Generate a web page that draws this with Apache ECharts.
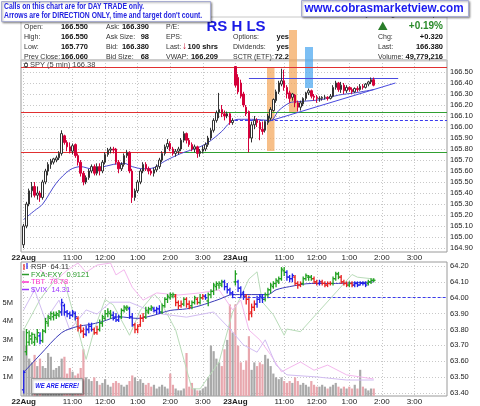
<!DOCTYPE html>
<html><head><meta charset="utf-8">
<script src="https://cdn.jsdelivr.net/npm/echarts@6/dist/echarts.min.js"></script>
<style>html,body{margin:0;padding:0;background:#fff}#c{width:480px;height:406px}</style>
</head><body><div id="c"></div>
<script>
// ---------- DATA ----------
const tickCats = [1, 19, 31, 43, 55, 67, 79, 97, 109, 121, 133, 145];
const tickText = ['22Aug','11:00','12:00','1:00','2:00','3:00','23Aug','11:00','12:00','1:00','2:00','3:00'];
const priceTicks = [164.9,165.0,165.1,165.2,165.3,165.4,165.5,165.6,165.7,165.8,165.9,166.0,166.1,166.2,166.3,166.4,166.5];
const rspTicks = [63.4,63.5,63.6,63.7,63.8,63.9,64.0,64.1,64.2];
const volTicks = [1,2,3,4,5];

const spyOpen = [164.93,165.10,165.30,165.42,165.46,165.38,165.40,165.36,165.50,165.60,
165.66,165.68,165.70,165.72,165.76,165.92,165.86,165.82,165.78,165.84,
165.74,165.68,165.58,165.50,165.54,165.60,165.64,165.58,165.64,165.60,
165.68,165.75,165.79,165.80,165.80,165.68,165.62,165.66,165.74,165.77,
165.60,165.36,165.42,165.50,165.60,165.66,165.62,165.60,165.58,165.61,
165.64,165.70,165.76,165.82,165.85,165.80,165.76,165.78,165.80,165.88,
165.94,165.88,165.84,165.80,165.82,165.76,165.78,165.80,165.84,165.90,
165.97,166.06,166.13,166.16,166.12,166.10,166.12,166.04,
166.55,166.45,166.40,166.30,166.18,166.14,165.90,166.02,166.06,166.04,
165.98,165.97,166.04,166.08,166.15,166.24,166.32,166.39,166.42,166.36,
166.31,166.27,166.29,166.22,166.18,166.21,166.26,166.31,166.33,166.28,
166.27,166.26,166.26,166.27,166.27,166.26,166.28,166.36,166.40,166.34,
166.38,166.33,166.36,166.34,166.32,166.35,166.34,166.37,166.36,166.39,
166.41,166.43];
const spyClose = [165.10,165.30,165.42,165.46,165.38,165.40,165.36,165.50,165.60,165.66,
165.69,165.71,165.72,165.76,165.94,165.86,165.82,165.78,165.83,165.74,
165.68,165.58,165.50,165.54,165.60,165.64,165.58,165.64,165.60,165.68,
165.75,165.79,165.80,165.79,165.68,165.62,165.66,165.74,165.77,165.60,
165.36,165.42,165.50,165.60,165.66,165.62,165.60,165.58,165.61,165.64,
165.70,165.76,165.82,165.85,165.80,165.76,165.78,165.80,165.88,165.94,
165.88,165.84,165.80,165.82,165.76,165.78,165.80,165.84,165.90,165.97,
166.06,166.13,166.16,166.12,166.10,166.12,166.04,166.06,
166.38,166.32,166.28,166.20,166.12,165.90,166.02,166.06,166.04,165.98,
165.96,166.05,166.10,166.16,166.25,166.32,166.40,166.42,166.36,166.30,
166.26,166.30,166.22,166.18,166.22,166.26,166.31,166.33,166.28,166.27,
166.26,166.26,166.27,166.27,166.26,166.28,166.36,166.40,166.34,166.38,
166.33,166.36,166.34,166.32,166.35,166.34,166.37,166.36,166.39,166.41,
166.43,166.38];
const spyLow = [164.90,165.08,165.28,165.36,165.36,165.34,165.32,165.34,165.48,165.56,
165.62,165.66,165.68,165.70,165.74,165.84,165.78,165.76,165.75,165.72,
165.65,165.55,165.47,165.48,165.52,165.58,165.56,165.56,165.56,165.58,
165.66,165.73,165.76,165.76,165.66,165.58,165.60,165.64,165.72,165.58,
165.31,165.33,165.40,165.48,165.58,165.60,165.57,165.56,165.55,165.59,
165.62,165.68,165.74,165.80,165.78,165.74,165.73,165.75,165.78,165.86,
165.85,165.82,165.78,165.77,165.72,165.73,165.76,165.78,165.82,165.88,
165.95,166.04,166.08,166.09,166.06,166.08,166.02,166.02,
166.36,166.30,166.26,166.18,166.10,165.77,165.86,165.98,166.00,165.88,
165.93,165.95,166.02,166.06,166.14,166.22,166.30,166.37,166.33,166.26,
166.22,166.24,166.18,166.14,166.15,166.19,166.24,166.29,166.26,166.24,
166.22,166.23,166.24,166.25,166.24,166.25,166.27,166.34,166.32,166.31,
166.30,166.31,166.32,166.30,166.31,166.32,166.33,166.34,166.35,166.37,
166.39,166.37];
const spyHigh = [165.12,165.32,165.44,165.50,165.50,165.46,165.42,165.52,165.62,165.68,
165.71,165.72,165.74,165.78,165.97,165.93,165.88,165.86,165.85,165.85,
165.76,165.70,165.60,165.56,165.62,165.66,165.66,165.67,165.67,165.70,
165.77,165.81,165.82,165.82,165.81,165.70,165.68,165.76,165.79,165.78,
165.62,165.44,165.52,165.62,165.68,165.68,165.64,165.62,165.63,165.66,
165.72,165.78,165.84,165.89,165.87,165.82,165.80,165.82,165.90,165.96,
165.95,165.90,165.86,165.84,165.83,165.80,165.83,165.86,165.92,165.99,
166.08,166.15,166.31,166.20,166.15,166.14,166.13,166.08,
166.55,166.48,166.43,166.32,166.20,166.15,166.05,166.10,166.08,166.06,
166.05,166.06,166.12,166.18,166.26,166.34,166.42,166.53,166.52,166.38,
166.33,166.31,166.30,166.24,166.24,166.27,166.32,166.35,166.34,166.30,
166.29,166.28,166.28,166.29,166.28,166.30,166.38,166.42,166.41,166.41,
166.40,166.38,166.37,166.36,166.36,166.37,166.39,166.39,166.40,166.42,
166.45,166.45];
// moving average (read at sampled bars): [bar, value]
const spyMA = [[0,165.16],[4,165.24],[7,165.30],[12,165.49],[17,165.61],[21,165.64],[25,165.62],[28,165.63],[33,165.66],[37,165.67],[40,165.64],[44,165.62],[48,165.63],[52,165.69],[58,165.76],[64,165.81],[68,165.86],[73,165.96],[76,166.04],[79,166.07],[84,166.07],[91,166.06],[94,166.15],[98,166.22],[101,166.23],[110,166.25],[116,166.29],[122,166.31],[129,166.34]];

const volM = [3.5,2.7,2.0,1.8,2.2,1.6,2.0,1.6,1.5,2.3,
2.1,1.4,1.5,1.6,2.0,2.1,1.2,1.5,1.3,1.1,
1.2,1.5,2.5,1.0,0.9,0.8,1.0,0.8,0.6,0.7,
0.9,0.6,0.5,0.7,0.8,0.7,0.6,0.5,0.6,0.8,
1.1,1.0,0.8,0.9,0.7,0.6,0.7,0.5,0.6,0.4,
0.5,0.6,0.5,0.4,1.2,0.6,0.4,0.3,0.3,0.4,
2.3,0.5,0.7,0.4,0.3,0.3,0.4,0.5,1.0,2.7,
2.4,2.0,1.8,1.6,2.5,3.0,4.9,3.4,
4.9,2.7,1.8,1.4,1.9,3.2,1.4,1.8,1.6,1.8,
1.7,2.2,2.0,1.6,1.2,1.0,0.9,1.0,0.8,0.7,
0.8,0.7,1.0,0.8,0.6,0.7,0.6,0.5,0.8,0.6,
0.5,0.5,0.6,0.5,0.4,0.5,0.6,0.7,0.5,0.4,
0.5,0.4,0.5,0.4,0.6,0.4,1.4,0.5,0.4,0.3,
0.4,0.4];

const rspOpen = [63.42,63.66,63.72,63.74,63.72,63.74,63.76,63.73,63.79,63.84,
63.87,63.88,63.89,63.89,63.91,63.95,63.91,63.90,63.89,63.90,
63.87,63.81,63.79,63.77,63.80,63.82,63.80,63.78,63.80,63.84,
63.87,63.90,63.90,63.89,63.88,63.86,63.88,63.92,63.93,63.93,
63.88,63.83,63.80,63.83,63.87,63.88,63.91,63.93,63.93,63.92,
63.93,63.91,63.95,63.99,64.00,64.01,64.01,63.97,63.95,63.96,
63.99,63.96,63.95,63.97,63.99,63.97,64.00,64.01,63.98,64.02,
64.04,64.07,64.08,64.08,64.10,64.07,64.05,64.03,
64.10,64.10,64.06,64.03,64.01,63.99,63.91,63.94,63.96,63.99,
64.00,63.99,64.02,64.05,64.07,64.09,64.10,64.12,64.17,64.16,
64.13,64.12,64.13,64.09,64.08,64.09,64.12,64.13,64.13,64.12,
64.10,64.09,64.10,64.09,64.08,64.09,64.09,64.12,64.15,64.13,
64.10,64.09,64.08,64.09,64.08,64.09,64.08,64.09,64.09,64.09,
64.10,64.11];
const rspClose = [63.53,63.78,63.76,63.77,63.75,63.78,63.73,63.79,63.85,63.88,
63.90,63.89,63.90,63.91,63.97,63.91,63.90,63.89,63.91,63.88,
63.81,63.79,63.77,63.80,63.82,63.80,63.78,63.80,63.84,63.88,
63.90,63.91,63.89,63.87,63.86,63.88,63.92,63.94,63.94,63.88,
63.83,63.80,63.82,63.87,63.88,63.92,63.93,63.94,63.92,63.93,
63.91,63.95,63.99,64.01,64.02,64.02,63.97,63.95,63.96,63.99,
63.96,63.94,63.97,64.00,63.97,64.00,64.01,64.00,64.02,64.04,
64.08,64.09,64.09,64.10,64.07,64.05,64.03,64.02,
64.15,64.06,64.02,64.01,63.99,63.90,63.94,63.96,63.99,64.01,
63.99,64.02,64.05,64.08,64.09,64.11,64.12,64.18,64.16,64.13,
64.12,64.14,64.09,64.08,64.09,64.12,64.14,64.13,64.12,64.10,
64.09,64.10,64.09,64.08,64.09,64.09,64.12,64.15,64.13,64.10,
64.09,64.08,64.09,64.08,64.09,64.08,64.09,64.09,64.08,64.10,
64.11,64.11];
const rspLow = [63.40,63.64,63.70,63.71,63.70,63.72,63.71,63.72,63.78,63.82,
63.86,63.86,63.87,63.88,63.89,63.89,63.88,63.87,63.88,63.86,
63.79,63.78,63.75,63.76,63.78,63.79,63.77,63.77,63.79,63.82,
63.86,63.88,63.87,63.86,63.85,63.85,63.87,63.91,63.92,63.87,
63.82,63.78,63.78,63.82,63.85,63.87,63.90,63.92,63.91,63.90,
63.90,63.90,63.94,63.97,63.99,64.00,63.95,63.93,63.94,63.95,
63.94,63.93,63.93,63.96,63.96,63.96,63.99,63.99,63.95,64.00,
64.02,64.05,64.06,64.07,64.05,64.03,64.02,64.00,
64.08,64.04,64.00,63.99,63.96,63.86,63.88,63.92,63.94,63.97,
63.97,63.98,64.00,64.03,64.06,64.07,64.09,64.11,64.14,64.11,
64.10,64.10,64.08,64.06,64.07,64.08,64.11,64.11,64.11,64.09,
64.08,64.08,64.08,64.07,64.07,64.08,64.08,64.11,64.12,64.09,
64.08,64.07,64.07,64.07,64.07,64.07,64.08,64.08,64.07,64.08,
64.09,64.10];
const rspHigh = [63.54,63.80,63.79,63.78,63.77,63.80,63.78,63.80,63.87,63.89,
63.91,63.91,63.91,63.92,63.99,63.96,63.92,63.91,63.92,63.91,
63.88,63.83,63.81,63.82,63.84,63.84,63.81,63.82,63.86,63.89,
63.92,63.93,63.92,63.91,63.90,63.89,63.93,63.95,63.95,63.94,
63.90,63.84,63.83,63.89,63.90,63.94,63.94,63.95,63.94,63.94,
63.95,63.96,64.00,64.02,64.03,64.03,64.02,63.98,63.98,64.00,
64.00,63.98,63.98,64.01,64.00,64.02,64.02,64.02,64.03,64.05,
64.09,64.10,64.10,64.11,64.11,64.09,64.06,64.04,
64.17,64.11,64.07,64.04,64.02,64.01,63.96,63.98,64.01,64.02,
64.02,64.03,64.06,64.09,64.10,64.12,64.13,64.19,64.19,64.17,
64.14,64.15,64.14,64.10,64.10,64.13,64.15,64.14,64.14,64.13,
64.11,64.11,64.11,64.10,64.10,64.10,64.13,64.16,64.16,64.14,
64.11,64.10,64.10,64.10,64.10,64.10,64.10,64.10,64.10,64.11,
64.12,64.12];
// impulse colour state per bar: G = green, B = blue, R = red
const rspImpulse = "BGGGGGBGGG"+"GGGGBBBBBB"+"RRRBBBRRGG"+"GGGBBBGGGB"+"BRRRRGGGBB"+"BGGGGGRRRG"+"RRGGRGRBGG"+"GGGGBBBB"+
"GBBBRRRRBB"+"BGGGGGGGGB"+"BBRRRGGGGR"+"RBRRRRGGGR"+"RRGRBBBBBG"+"GG";
const rspMA = [[0,63.53],[6,63.64],[14,63.78],[20,63.82],[24,63.83],[29,63.85],[35,63.88],[42,63.87],[48,63.89],[54,63.92],[60,63.93],[65,63.95],[72,63.99],[77,64.02],[82,64.02],[86,64.02],[90,64.02],[93,64.05],[98,64.07],[106,64.09],[114,64.09],[129,64.10]];

const fxaFxy = [[0,0.9064],[6,0.9098],[12,0.9122],[15,0.9118],[19,0.9075],[23,0.9031],[26,0.9064],[30,0.9098],[33,0.9092],[39,0.9058],[43,0.9086],[48,0.9104],[50,0.9098],[56,0.9064],[62,0.8998],[65,0.8998],[72,0.9028],[77,0.9084],[79,0.9095],[83,0.9121],[86,0.9129],[88,0.9095],[92,0.9081],[96,0.9058],[97,0.9065],[102,0.9062],[121,0.9126],[123,0.9123],[129,0.9121]];
const tbt = [[6,81.89],[12,81.70],[16,81.89],[20,82.03],[23,81.85],[27,81.99],[32,82.03],[34,81.80],[37,81.90],[40,81.56],[44,81.31],[49,81.45],[57,81.41],[65,81.45],[72,81.51],[77,81.12],[80,81.31],[83,80.73],[87,80.54],[91,80.25],[95,79.92],[102,80.11],[107,79.95],[112,80.05],[119,79.86],[124,79.82],[129,79.78]];
const vix = [[0,15.67],[4,16.06],[8,15.47],[13,15.86],[17,15.28],[23,15.67],[27,15.59],[32,15.82],[39,15.82],[45,15.69],[51,15.59],[60,15.53],[70,15.63],[76,15.30],[81,14.99],[86,14.85],[89,15.09],[93,14.60],[97,14.41],[108,14.37],[119,14.31],[129,14.31]];

// annotation price levels
const redTop = 166.54, level1 = 166.13, level2 = 165.77, prevClose = 166.06, resist = 166.44;
const trendStart = [91, 166.05], trendEnd = [138, 166.40];
const rspRef = 64.00;

// ---------- BUILD ----------
const N = 158;
const cats = Array.from({length: N}, (_, i) => String(i));
const empty = () => Array.from({length: N}, () => null);
const candle = Array.from({length: N}, () => '-');
spyOpen.forEach((o, k) => { candle[k + 1] = [o, spyClose[k], spyLow[k], spyHigh[k]]; });
const sparse = pts => { const a = empty(); pts.forEach(p => { a[p[0] + 1] = p[1]; }); return a; };
const volData = empty();
volM.forEach((v, k) => { volData[k + 1] = { value: v, itemStyle: { color: spyClose[k] < spyOpen[k] ? '#e8a7ae' : '#a9a9a9' } }; });
const impCode = { G: 0, B: 1, R: 2 };
const impColor = ['#20a020', '#2020e8', '#e82020'];
const rspData = rspOpen.map((o, k) => [k + 1, o, rspClose[k], rspLow[k], rspHigh[k], impCode[rspImpulse[k]]]);

const tickSet = new Set(tickCats);
const FONT = 'Liberation Sans';
const xAxisCommon = (gi) => ({
  type: 'category', gridIndex: gi, data: cats, boundaryGap: false,
  axisLine: { show: false }, axisTick: { show: false },
  axisLabel: {
    interval: (i) => tickSet.has(i), margin: 2, fontSize: 8, color: '#222', fontFamily: FONT,
    formatter: (v) => { const j = tickCats.indexOf(+v); if (j < 0) return ''; return (j === 0 || j === 6) ? '{b|' + tickText[j] + '}' : tickText[j]; },
    rich: { b: { fontWeight: 'bold', fontSize: 8, color: '#222', fontFamily: FONT } }
  },
  splitLine: { show: true, interval: (i) => tickSet.has(i), lineStyle: { color: '#c8c8c8', type: [1, 2], width: 1 } }
});

const chart = echarts.init(document.getElementById('c'), null, { renderer: 'canvas' });
const T = (x, y, text, o = {}, z = 20, sx = 1) => ({ type: 'text', x, y, z, scaleX: sx, style: Object.assign({ text, fontFamily: FONT, fontSize: 7, fill: '#333', textVerticalAlign: 'middle', textAlign: 'left' }, o) });
const B = (x, y, text, o = {}) => T(x, y, text, Object.assign({ fontWeight: 'bold', fontSize: 7.5, fill: '#111', textAlign: 'right' }, o));

const rows = [26.7, 36.7, 46.7, 56.7];
const graphics = [
  // header frame
  { type: 'rect', z: 1, shape: { x: 21, y: 17, width: 426, height: 44 }, style: { fill: 'none', stroke: '#c8c8c8', lineWidth: 1 } },
  // signal bands
  { type: 'rect', z: 1, shape: { x: 267, y: 68, width: 7.5, height: 83 }, style: { fill: 'rgba(244,166,90,0.72)' } },
  { type: 'rect', z: 1, shape: { x: 289, y: 30, width: 8, height: 83 }, style: { fill: 'rgba(244,166,90,0.72)' } },
  { type: 'rect', z: 1, shape: { x: 305, y: 47, width: 8, height: 41 }, style: { fill: 'rgba(80,170,240,0.75)' } },
  // header table
  T(24, rows[0], 'Open:'), T(24, rows[1], 'High:'), T(24, rows[2], 'Low:'), T(24, rows[3], 'Prev Close:'),
  B(88, rows[0], '166.550'), B(88, rows[1], '166.550'), B(88, rows[2], '165.770'), B(88, rows[3], '166.060'),
  T(106, rows[0], 'Ask:'), T(106, rows[1], 'Ask Size:'), T(106, rows[2], 'Bid:'), T(106, rows[3], 'Bid Size:'),
  B(149, rows[0], '166.390'), B(149, rows[1], '98'), B(149, rows[2], '166.380'), B(149, rows[3], '68'),
  T(166, rows[0], 'P/E:'), T(166, rows[1], 'EPS:'), T(166, rows[2], 'Last:'), T(166, rows[3], 'VWAP:'),
  T(182, rows[2], '\u2193', { fill: '#c00020', fontWeight: 'bold', fontSize: 10 }),
  B(218, rows[2], '100 shrs'), B(218, rows[3], '166.209'),
  T(236, 26.5, 'RS H LS', { fontSize: 15, fontWeight: 'bold', fill: '#1a1ae6', textAlign: 'center' }),
  T(233, rows[1], 'Options:'), T(233, rows[2], 'Dividends:'), T(233, rows[3], 'SCTR (ETF):'),
  B(289, rows[1], 'yes'), B(289, rows[2], 'yes'), B(289, rows[3], '72.2'),
  T(443, 14, 'Friday 23 Aug 2013 1:45 pm', { textAlign: 'right', fontSize: 7.5 }),
  { type: 'polygon', z: 20, shape: { points: [[378, 30], [387.5, 30], [382.75, 21.5]] }, style: { fill: '#2a7d2a' } },
  B(443, 26, '+0.19%', { fontSize: 10, fill: '#2a8a2a' }),
  T(378, rows[1], 'Chg:'), T(378, rows[2], 'Last:'), T(378, rows[3], 'Volume:'),
  B(443, rows[1], '+0.320'), B(443, rows[2], '166.380'), B(443, rows[3], '49,779,216'),
  // info boxes
  { type: 'rect', z: 30, shape: { x: 1.5, y: 1.5, width: 209, height: 20 }, style: { fill: '#fff', stroke: '#a8acd0', lineWidth: 1, shadowBlur: 2, shadowOffsetX: 1, shadowOffsetY: 1, shadowColor: 'rgba(0,0,0,0.35)' } },
  T(4, 7, 'Calls on this chart are for DAY TRADE only.', { fontWeight: 'bold', fill: '#2323e0', fontSize: 8.5 }, 40, 0.8),
  T(4, 16, "Arrows are for DIRECTION ONLY, time and target don't count.", { fontWeight: 'bold', fill: '#2323e0', fontSize: 8.5 }, 40, 0.8),
  { type: 'rect', z: 30, shape: { x: 301.5, y: 0.5, width: 167, height: 16 }, style: { fill: '#fff', stroke: '#a8acd0', lineWidth: 1, shadowBlur: 2, shadowOffsetX: 1, shadowOffsetY: 1, shadowColor: 'rgba(0,0,0,0.35)' } },
  T(384, 8.5, 'www.cobrasmarketview.com', { fontWeight: 'bold', fill: '#1a1aee', fontSize: 13, textAlign: 'center' }, 40, 0.9),
  // main legend
  { type: 'line', z: 20, shape: { x1: 26, y1: 62, x2: 26, y2: 68 }, style: { stroke: '#333', lineWidth: 1 } },
  { type: 'rect', z: 20, shape: { x: 24.5, y: 63.5, width: 3, height: 3 }, style: { fill: '#fff', stroke: '#333', lineWidth: 0.8 } },
  T(30, 65, 'SPY (5 min) 166.38', { fontSize: 7.5, fill: '#444' }),
  // lower legend
  { type: 'line', z: 20, shape: { x1: 24, y1: 264, x2: 24, y2: 270 }, style: { stroke: '#e82020', lineWidth: 1.2 } },
  { type: 'line', z: 20, shape: { x1: 27, y1: 263, x2: 27, y2: 269 }, style: { stroke: '#2020e8', lineWidth: 1.2 } },
  T(31, 267, 'RSP  64.11', { fontSize: 7.5, fill: '#333' }),
  { type: 'line', z: 20, shape: { x1: 22, y1: 274.5, x2: 29, y2: 274.5 }, style: { stroke: '#2a9a2a', lineWidth: 1.5 } },
  T(31, 274.5, 'FXA:FXY  0.9121', { fontSize: 7.5, fill: '#2a9a2a' }),
  { type: 'line', z: 20, shape: { x1: 22, y1: 282, x2: 29, y2: 282 }, style: { stroke: '#ff33cc', lineWidth: 1.5 } },
  T(31, 282, 'TBT  79.78', { fontSize: 7.5, fill: '#ff33cc' }),
  { type: 'line', z: 20, shape: { x1: 22, y1: 289.5, x2: 29, y2: 289.5 }, style: { stroke: '#9933ff', lineWidth: 1.5 } },
  T(31, 289.5, '$VIX  14.31', { fontSize: 7.5, fill: '#9933ff' }),
  // we are here
  { type: 'rect', z: 30, shape: { x: 31.5, y: 378.5, width: 51, height: 15 }, style: { fill: '#fff', stroke: '#999', lineWidth: 1, shadowBlur: 2, shadowOffsetX: 1, shadowOffsetY: 1, shadowColor: 'rgba(0,0,0,0.35)' } },
  T(57, 386, 'WE ARE HERE!', { fontWeight: 'bold', fontStyle: 'italic', fill: '#1a1aee', fontSize: 8, textAlign: 'center' }, 40, 0.74)
];

const option = {
  animation: false,
  backgroundColor: '#fff',
  textStyle: { fontFamily: FONT },
  grid: [
    { left: 21, top: 60, width: 426, height: 192, show: true, borderColor: '#9a9a9a', borderWidth: 1, outerBoundsMode: 'none' },
    { left: 21, top: 262, width: 426, height: 134, show: true, borderColor: '#9a9a9a', borderWidth: 1, outerBoundsMode: 'none' }
  ],
  xAxis: [xAxisCommon(0), xAxisCommon(1)],
  yAxis: [
    { type: 'value', gridIndex: 0, position: 'right', min: 164.864, max: 166.609, scale: true,
      axisLine: { show: false }, axisTick: { show: false, customValues: priceTicks },
      axisLabel: { customValues: priceTicks, formatter: v => v.toFixed(2), fontSize: 7.5, color: '#222', margin: 3, fontFamily: FONT },
      splitLine: { show: true, lineStyle: { color: '#c8c8c8', type: [1, 2] } } },
    { type: 'value', gridIndex: 1, position: 'right', min: 63.381, max: 64.2252, scale: true,
      axisLine: { show: false }, axisTick: { show: false, customValues: rspTicks },
      axisLabel: { customValues: rspTicks, formatter: v => v.toFixed(2), fontSize: 7.5, color: '#222', margin: 3, fontFamily: FONT },
      splitLine: { show: true, lineStyle: { color: '#c8c8c8', type: [1, 2] } } },
    { type: 'value', gridIndex: 1, position: 'left', min: 0, max: 7.17,
      axisLine: { show: false }, axisTick: { show: false, customValues: volTicks },
      axisLabel: { customValues: volTicks, formatter: v => v + 'M', fontSize: 7.5, color: '#222', margin: 8, fontFamily: FONT },
      splitLine: { show: false } },
    { type: 'value', gridIndex: 1, show: false, min: 0.899, max: 0.914 },
    { type: 'value', gridIndex: 1, show: false, min: 79.45, max: 82.05 },
    { type: 'value', gridIndex: 1, show: false, min: 14.0, max: 16.6 }
  ],
  graphic: graphics,
  series: [
    { type: 'bar', xAxisIndex: 1, yAxisIndex: 2, data: volData, barWidth: 2.2, z: 1, silent: true },
    { type: 'line', xAxisIndex: 1, yAxisIndex: 3, data: sparse(fxaFxy), connectNulls: true, symbol: 'none', z: 1,
      lineStyle: { color: '#b9dcb9', width: 1 } },
    { type: 'line', xAxisIndex: 1, yAxisIndex: 4, data: sparse(tbt), connectNulls: true, symbol: 'none', z: 1,
      lineStyle: { color: '#f4b8ee', width: 1 } },
    { type: 'line', xAxisIndex: 1, yAxisIndex: 5, data: sparse(vix), connectNulls: true, symbol: 'none', z: 1,
      lineStyle: { color: '#d2bdf2', width: 1 } },
    { type: 'line', xAxisIndex: 1, yAxisIndex: 1, data: sparse(rspMA), connectNulls: true, symbol: 'none', smooth: 0.3, z: 3,
      lineStyle: { color: '#3a3ab8', width: 1 },
      markLine: { silent: true, symbol: 'none', label: { show: false },
        data: [[{ coord: ['78', rspRef], lineStyle: { color: '#3a3aee', width: 1, type: [3, 2] } }, { coord: ['157', rspRef] }]] } },
    { type: 'custom', xAxisIndex: 1, yAxisIndex: 1, data: rspData, z: 4, encode: { x: 0, y: [1, 2, 3, 4] },
      renderItem: function (params, api) {
        const x = api.value(0);
        const o = api.coord([x, api.value(1)]);
        const c = api.coord([x, api.value(2)]);
        const l = api.coord([x, api.value(3)]);
        const h = api.coord([x, api.value(4)]);
        const st = { stroke: impColor[api.value(5)], lineWidth: 1.3 };
        return { type: 'group', children: [
          { type: 'line', shape: { x1: h[0], y1: h[1] - 0.5, x2: l[0], y2: l[1] + 0.5 }, style: st },
          { type: 'line', shape: { x1: o[0] - 1.8, y1: o[1], x2: o[0], y2: o[1] }, style: st },
          { type: 'line', shape: { x1: c[0], y1: c[1], x2: c[0] + 1.8, y2: c[1] }, style: st }
        ] };
      } },
    { type: 'line', xAxisIndex: 0, yAxisIndex: 0, data: sparse(spyMA), connectNulls: true, symbol: 'none', smooth: 0.3, z: 3,
      lineStyle: { color: '#4a4ad0', width: 1 },
      markLine: { silent: true, symbol: 'none', label: { show: false }, z: 2,
        data: [
          [{ coord: ['0', redTop], lineStyle: { color: '#e03030', width: 1, type: 'solid' } }, { coord: ['157', redTop] }],
          [{ coord: ['0', level1], lineStyle: { color: '#e03030', width: 1, type: 'solid' } }, { coord: ['72', level1] }],
          [{ coord: ['72', level1], lineStyle: { color: '#30a030', width: 1, type: 'solid' } }, { coord: ['157', level1] }],
          [{ coord: ['0', level2], lineStyle: { color: '#e03030', width: 1, type: 'solid' } }, { coord: ['60', level2] }],
          [{ coord: ['60', level2], lineStyle: { color: '#30a030', width: 1, type: 'solid' } }, { coord: ['157', level2] }],
          [{ coord: ['77', prevClose], lineStyle: { color: '#3a3aee', width: 1, type: [3, 2] } }, { coord: ['157', prevClose] }],
          [{ coord: ['84', resist], lineStyle: { color: '#4a4ae0', width: 1, type: 'solid' } }, { coord: ['139', resist] }],
          [{ coord: [String(trendStart[0]), trendStart[1]], lineStyle: { color: '#4a4ae0', width: 1, type: 'solid' } }, { coord: [String(trendEnd[0]), trendEnd[1]] }]
        ] } },
    { type: 'candlestick', xAxisIndex: 0, yAxisIndex: 0, data: candle, barWidth: 2, z: 4,
      itemStyle: { color: '#ffffff', color0: '#d4003a', borderColor: '#333333', borderColor0: '#d4003a', borderWidth: 1 } }
  ]
};
chart.setOption(option);
</script></body></html>
